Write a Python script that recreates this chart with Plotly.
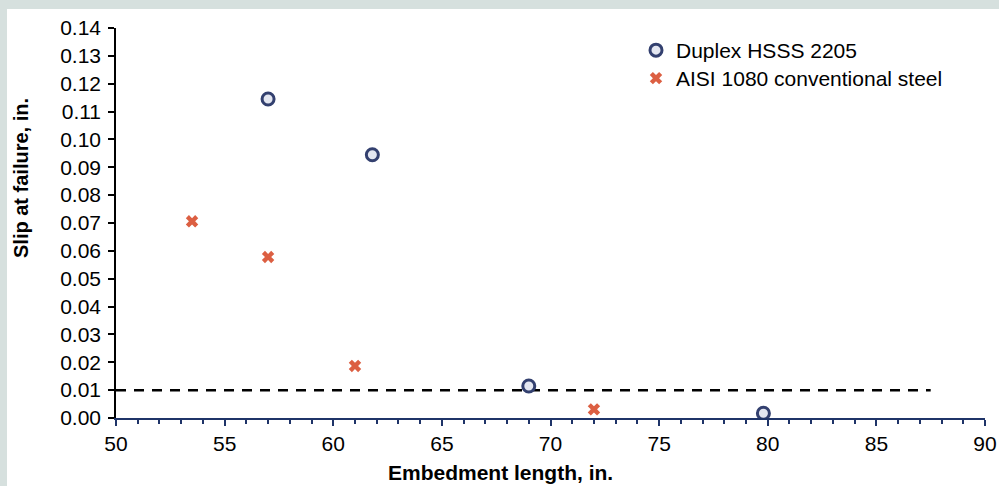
import plotly.graph_objects as go

# Data
duplex_x = [57.0, 61.8, 69.0, 79.8]
duplex_y = [0.1145, 0.0945, 0.0115, 0.0017]
aisi_x = [53.5, 57.0, 61.0, 72.0]
aisi_y = [0.0706, 0.0578, 0.0187, 0.0031]
limit_x = [50, 87.5]
limit_y = [0.01, 0.01]

x_ticks = [50, 55, 60, 65, 70, 75, 80, 85, 90]
y_ticks = [round(i * 0.01, 2) for i in range(15)]

x_title = "Embedment length, in."
y_title = "Slip at failure, in."

FONT = "Liberation Sans, Arial, sans-serif"
NAVY = "#1f3468"

fig = go.Figure()

fig.add_trace(go.Scatter(
    x=limit_x, y=limit_y, mode="lines", showlegend=False, hoverinfo="skip",
    line=dict(color="black", width=2.5, dash="10px,8px"),
))
fig.add_trace(go.Scatter(
    x=duplex_x, y=duplex_y, mode="markers", name="Duplex HSSS 2205",
    legend="legend",
    marker=dict(symbol="circle", size=12, color="#e4e7f1",
                line=dict(color="#33406f", width=3)),
))
fig.add_trace(go.Scatter(
    x=aisi_x, y=aisi_y, mode="markers", name="AISI 1080 conventional steel",
    legend="legend2",
    marker=dict(symbol="x", size=11, color="#dc5f42", line=dict(width=0)),
))

W, H = 999, 486
L, R, T, B = 116, 14, 28, 68
pw, ph = W - L - R, H - T - B

def px_x(p):
    return (p - L) / pw

def px_y(p):
    return (H - B - p) / ph

# white panel over the grey-green frame
fig.add_shape(type="rect", xref="paper", yref="paper", layer="below",
              x0=px_x(7), x1=px_x(W + 20), y0=px_y(H + 20), y1=px_y(9),
              fillcolor="white", line=dict(width=0))

fig.add_annotation(text=f"<b>{x_title}</b>", xref="paper", yref="paper",
                   x=px_x(500), y=px_y(472), xanchor="center", yanchor="middle",
                   showarrow=False, font=dict(size=21))
fig.add_annotation(text=f"<b>{y_title}</b>", xref="paper", yref="paper",
                   x=px_x(21), y=px_y(178), xanchor="center", yanchor="middle",
                   textangle=-90, showarrow=False, font=dict(size=20))

legend_common = dict(xanchor="left", yanchor="top",
                     bgcolor="rgba(0,0,0,0)", font=dict(size=21))

fig.update_layout(
    width=W, height=H,
    margin=dict(l=L, r=R, t=T, b=B, autoexpand=False),
    paper_bgcolor="#d6e0de",
    plot_bgcolor="white",
    font=dict(family=FONT, size=21, color="black"),
    legend=dict(x=px_x(636), y=px_y(30), **legend_common),
    legend2=dict(x=px_x(636), y=px_y(58), **legend_common),
    xaxis=dict(
        range=[50, 90], tickvals=x_ticks, ticktext=[str(v) for v in x_ticks],
        showgrid=False, zeroline=False,
        showline=True, linecolor=NAVY, linewidth=2,
        ticks="outside", ticklen=6, tickwidth=1.5, tickcolor=NAVY,
        minor=dict(dtick=1, ticks="outside", ticklen=4, tickwidth=1.5,
                   tickcolor=NAVY, showgrid=False),
        tickfont=dict(size=21), automargin=False,
    ),
    yaxis=dict(
        range=[0, 0.14], tickvals=y_ticks,
        ticktext=[f"{v:.2f}" for v in y_ticks],
        showgrid=False, zeroline=False,
        showline=True, linecolor="black", linewidth=1.5,
        ticks="outside", ticklen=6, tickwidth=1.5, tickcolor="black",
        ticklabelstandoff=3,
        tickfont=dict(size=21), automargin=False,
    ),
)

fig.write_html("out.html", config={"displayModeBar": False},
               post_script="document.body.style.margin='0';document.body.style.overflow='hidden';")
